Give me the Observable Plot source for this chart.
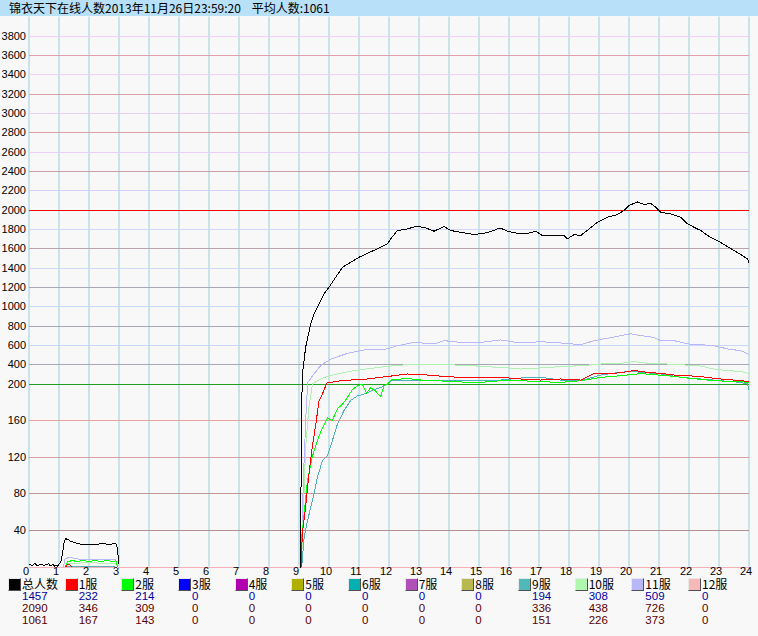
<!DOCTYPE html>
<html><head><meta charset="utf-8">
<script src="https://cdn.jsdelivr.net/npm/d3@7"></script>
<script src="https://cdn.jsdelivr.net/npm/@observablehq/plot@0.6"></script>
<style>
html,body{margin:0;padding:0;background:#f8f8f8;}
#wrap{position:relative;width:758px;height:636px;overflow:hidden;background:#f8f8f8;}
#chart{position:absolute;left:0;top:0;}
#title{position:absolute;left:0;top:0;width:758px;height:16px;background:#b8e0f8;font:12px "Noto Sans CJK SC",sans-serif;line-height:16px;padding-left:9px;box-sizing:border-box;white-space:pre;color:#000;z-index:2;}
.sq{position:absolute;width:11px;height:11px;border:1px solid;border-color:#e8e8e8 #505050 #505050 #e8e8e8;}
.lab{position:absolute;font:12px "Noto Sans CJK SC",sans-serif;line-height:12px;height:12px;white-space:pre;color:#000;}
.num{position:absolute;font:11.5px "Liberation Sans Narrow","Liberation Sans",sans-serif;line-height:11px;height:11px;white-space:pre;}
</style></head>
<body><div id="wrap"><div id="title"></div></div>
<script>
// ---- text ----
const titleMain = "锦衣天下在线人数2013年11月26日23:59:20";
const titleAvg = "平均人数:1061";

// ---- axes ----
const hourTicks = d3.range(0, 25);
const yTicksLow = [40, 80, 120, 160];
const yTicksHigh = [200,400,600,800,1000,1200,1400,1600,1800,2000,2200,2400,2600,2800,3000,3200,3400,3600,3800];
const gridValues = [0,40,80,120,160,200,400,600,800,1000,1200,1400,1600,1800,2000,2200,2400,2600,2800,3000,3200,3400,3600,3800];
const gridColors = ["#f8b0b8","#b09090","#c09898","#d8a0a0","#e8a0a0","#20a020","#a8a8b4","#c8d8f8","#a8a8b4","#c8d8f8","#a8a8b4","#d0d8f8","#b8a4b0","#d0d8f8","#ff0000","#d8d0f8","#c8a0a8","#e8d0f8","#d8a0a8","#e8d0f0","#d8a0a8","#f0d0f8","#e0a0b0","#f0d0f8"];
const vGridColor = "#98d0dc";
const yBreak = 200, yTop = 4000;

// ---- legend ----
const seriesNames = ["总人数","1服","2服","3服","4服","5服","6服","7服","8服","9服","10服","11服","12服"];
const seriesColors = ["#000000","#ff0000","#00ff00","#0000ff","#b000b0","#b0b000","#00b0b0","#b050b8","#b8b850","#50b8b8","#b0f8b0","#b8b8f8","#f8b8b8"];
const currentValues = [1457,232,214,0,0,0,0,0,0,194,308,509,0];
const maxValues = [2090,346,309,0,0,0,0,0,0,336,438,726,0];
const avgValues = [1061,167,143,0,0,0,0,0,0,151,226,373,0];

// ---- series (hour, value) ----
const totalHours = [0,0.05,0.1,0.15,0.2,0.25,0.3,0.35,0.4,0.45,0.5,0.55,0.6,0.65,0.7,0.75,0.8,0.85,0.9,0.95,1.0,1.08,1.12,1.17,1.22,1.3,1.39,1.5,1.6,1.72,1.85,2.0,2.15,2.3,2.45,2.6,2.75,2.89,2.93,2.97,3.0,3.01,
 9.05,9.08,9.11,9.15,9.22,9.39,9.5,9.67,9.83,10.0,10.22,10.45,10.72,11.0,11.28,11.61,11.95,12.06,12.28,12.61,12.89,13.17,13.5,13.83,14.06,14.39,14.83,15.17,15.5,15.7,15.95,16.39,16.72,16.89,17.11,17.5,17.83,17.95,18.17,18.39,18.67,18.95,19.28,19.61,19.83,20.0,20.28,20.5,20.72,20.89,21.06,21.39,21.72,21.95,22.17,22.39,22.67,22.95,23.17,23.5,23.78,23.95,24.0];
const totalValues = [2,3,1,3,4,2,1,3,2,3,1,3,2,4,1,2,3,1,2,1,3,7,16,27,31,30,28,27,26,25,25,24,25,25,26,25,25,26,23,12,3,null,
 0,150,300,390,579,822,925,1029,1133,1201,1305,1408,1460,1512,1553,1599,1651,1703,1789,1806,1830,1823,1782,1830,1789,1771,1747,1761,1789,1817,1782,1754,1765,1782,1737,1737,1737,1703,1747,1737,1806,1875,1927,1954,1996,2048,2085,2058,2072,2030,1978,1962,1927,1858,1823,1789,1727,1685,1644,1582,1530,1496,1457];

const s1Hours = [1.22,1.28,1.35,1.42,1.43,
 9.07,9.11,9.22,9.33,9.44,9.56,9.67,9.78,9.89,9.95,10.06,10.39,10.72,11.28,11.72,12.17,12.61,13.28,13.94,14.39,15.06,15.72,16.39,17.06,17.72,18.39,18.83,19.28,19.72,20.17,20.61,21.06,21.5,21.95,22.39,23.06,23.72,23.97,24];
const s1Values = [0,3,3,0,null,
 0,36,65,101,131,156,182,189,198,217,217,234,241,252,269,286,304,293,276,269,262,269,252,241,252,241,310,304,317,340,321,310,293,286,276,252,234,227,232];

const s2Hours = [1.2,1.3,1.45,1.6,1.8,2.0,2.2,2.4,2.6,2.8,2.9,2.95,2.96,
 9.05,9.09,9.17,9.28,9.44,9.61,9.78,9.95,10.11,10.28,10.45,10.61,10.78,10.95,11.11,11.25,11.39,11.56,11.72,11.83,11.95,12.06,12.61,13.06,13.61,14.17,14.72,15.06,15.72,16.39,17.06,17.72,18.39,19.06,19.72,20.39,20.83,21.28,21.95,22.61,23.28,23.72,23.97,24];
const s2Values = [0,6,7,6,7,6,7,6,7,6,7,0,null,
 0,32,58,94,120,138,152,163,160,173,178,185,194,198,200,190,196,192,186,198,200,241,258,241,234,224,217,217,234,234,224,217,234,269,286,308,296,286,262,241,227,224,217,214];

const s9Hours = [1.25,2.85,2.86,
 9.09,9.17,9.28,9.39,9.5,9.61,9.78,9.95,10.11,10.28,10.5,10.72,10.95,11.17,11.33,11.5,11.72,11.95,12.06,12.61,13.28,13.94,14.61,15.06,15.72,16.39,17.06,17.72,18.39,19.06,19.72,20.06,20.39,21.06,21.72,22.39,23.06,23.72,23.95,24];
const s9Values = [1,1,null,
 0,32,50,65,80,98,116,122,138,156,171,182,187,189,191,194,196,200,234,241,234,241,234,241,241,262,269,241,234,293,321,332,321,304,269,252,234,217,200,194];

const s10Hours = [1.2,1.3,1.6,2.0,2.4,2.89,2.95,2.96,
 9.08,9.22,9.33,9.45,9.61,9.83,10.28,10.83,11.5,12.17,12.61,13.28,13.94,14.39,14.83,15.06,15.72,16.39,17.06,17.72,18.39,19.06,19.72,20.17,20.61,21.28,21.72,22.39,22.83,23.28,23.72,23.97,24];
const s10Values = [0,4,4,5,4,4,0,null,
 0,130,174,200,234,268,304,338,366,390,400,397,407,390,390,380,373,355,366,380,390,407,414,432,414,407,400,386,355,338,331,310,308];

const s11Hours = [1.15,1.2,1.3,1.45,1.6,1.75,2.0,2.3,2.6,2.89,2.93,2.97,2.98,
 9.07,9.15,9.25,9.3,9.5,9.72,10.06,10.61,11.17,11.95,12.28,12.83,13.5,13.83,14.39,15.06,15.72,16.39,17.06,17.72,18.39,18.83,19.28,19.72,20.06,20.39,20.83,21.06,21.5,21.95,22.39,22.83,23.28,23.72,23.97,24];
const s11Values = [0,9,10,10,9,8,8,8,8,8,4,0,null,
 0,100,180,220,304,390,459,517,552,563,597,631,615,649,631,631,656,625,638,625,607,649,673,701,720,701,683,649,649,615,607,597,563,545,511,509];

// ---- build ----
document.getElementById("title").textContent = titleMain + "    " + titleAvg;

// piecewise y: 0..200 occupies 183px, 200..4000 occupies 367px
const lowPx = 183, highPx = 367;
const ratio = (highPx / (yTop - yBreak)) / (lowPx / yBreak);
const yWarp = v => (v == null ? NaN : v <= yBreak ? v : yBreak + (v - yBreak) * ratio);

function seriesLine(hours, values, color) {
  return Plot.line(d3.range(hours.length), {
    x: i => hours[i], y: i => values[i],
    stroke: color, strokeWidth: 1, curve: "linear", shapeRendering: "crispEdges"
  });
}

const yLabels = yTicksLow.concat(yTicksHigh);

const chart = Plot.plot({
  width: 758, height: 636,
  style: {background: "transparent", fontFamily: "'Liberation Sans Narrow','Liberation Sans',sans-serif", fontSize: "11px", color: "#000"},
  x: {domain: [0, 24], range: [28.5, 748.5], axis: null},
  y: {type: "linear", transform: yWarp, domain: [0, yWarp(yTop)], range: [566.5, 16.5], axis: null},
  marks: [
    Plot.ruleX(hourTicks, {x: d => d, y1: 0, y2: yTop, stroke: vGridColor, strokeWidth: 1}),
    Plot.ruleY(d3.range(gridValues.length), {y: i => gridValues[i], x1: 0, x2: 24, stroke: i => gridColors[i], strokeWidth: 1, shapeRendering: "crispEdges"}),
    Plot.text(yLabels, {x: 0, y: d => d, text: d => String(d), textAnchor: "end", dx: -3, fill: "#000", fontSize: 11}),
    Plot.text(hourTicks, {x: d => d, y: 0, text: d => String(d), dx: -3, dy: 4.5, fill: "#000", fontSize: 11}),
    seriesLine(s11Hours, s11Values, "#b8b8f8"),
    seriesLine(s10Hours, s10Values, "#b0f0b0"),
    seriesLine(s9Hours, s9Values, "#50b0b8"),
    seriesLine(s2Hours, s2Values, "#00ff00"),
    seriesLine(s1Hours, s1Values, "#ff0000"),
    seriesLine(totalHours, totalValues, "#000000")
  ]
});
chart.id = "chart";
const wrap = document.getElementById("wrap");
wrap.insertBefore(chart, wrap.firstChild);

// legend
seriesNames.forEach((name, i) => {
  const left = 8 + i * 56.67;
  const sq = document.createElement("div");
  sq.className = "sq";
  sq.style.left = left + "px"; sq.style.top = "578px"; sq.style.background = seriesColors[i];
  wrap.appendChild(sq);
  const lab = document.createElement("div");
  lab.className = "lab";
  lab.style.left = (left + 14) + "px"; lab.style.top = "578px";
  lab.textContent = name;
  wrap.appendChild(lab);
  [[currentValues, "#0000a0", 591], [maxValues, "#580000", 603], [avgValues, "#580000", 615]].forEach(([arr, col, top]) => {
    const n = document.createElement("div");
    n.className = "num";
    n.style.left = (left + 14) + "px"; n.style.top = top + "px"; n.style.color = col;
    n.textContent = String(arr[i]);
    wrap.appendChild(n);
  });
});
</script>
</body></html>
